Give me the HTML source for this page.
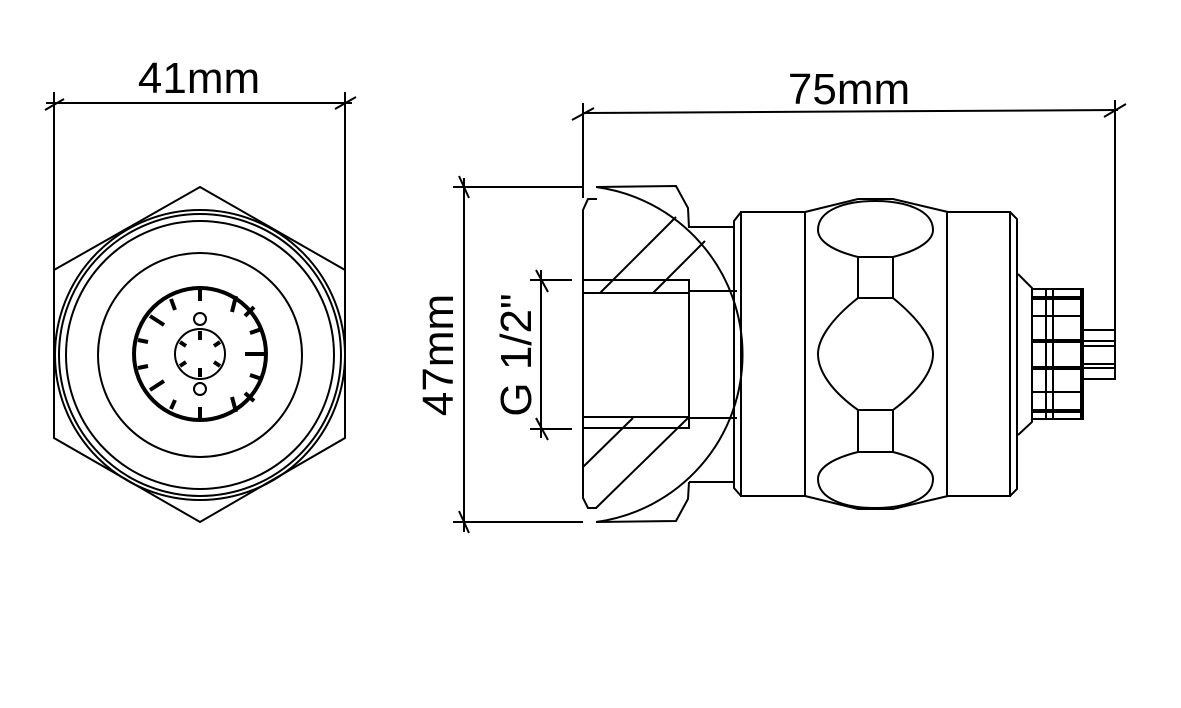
<!DOCTYPE html>
<html><head><meta charset="utf-8"><style>
html,body{margin:0;padding:0;background:#fff;}
svg{display:block}
text{font-family:"Liberation Sans",sans-serif;font-size:44px;fill:#000}
</style></head><body>
<svg width="1181" height="708" viewBox="0 0 1181 708" xmlns="http://www.w3.org/2000/svg">
<g fill="none" stroke="#000" stroke-width="2">
<line x1="54" y1="92" x2="54" y2="270"/>
<line x1="345" y1="92" x2="345" y2="270"/>
<line x1="46" y1="103" x2="352" y2="103"/>
<line x1="45" y1="110" x2="64" y2="99"/>
<line x1="335" y1="109" x2="356" y2="97"/>
<polygon points="200,187 345,270 345,438 200,522 54,438 54,270"/>
<circle cx="200" cy="355" r="145"/>
<circle cx="200" cy="355" r="141"/>
<circle cx="200" cy="355" r="134"/>
<circle cx="200" cy="355" r="102"/>
<circle cx="200" cy="354" r="66" stroke-width="4"/>
<circle cx="200" cy="354" r="25"/>
<circle cx="200" cy="319" r="6"/>
<circle cx="200" cy="389" r="6"/>
</g>
<g stroke="#000" stroke-width="4" fill="none">
<line x1="200" y1="290" x2="200" y2="301"/>
<line x1="200" y1="418" x2="200" y2="407"/>
<line x1="236" y1="296" x2="232" y2="312"/>
<line x1="254" y1="307" x2="245" y2="316"/>
<line x1="262" y1="329" x2="250" y2="333"/>
<line x1="264" y1="354" x2="245" y2="354"/>
<line x1="262" y1="379" x2="250" y2="375"/>
<line x1="254" y1="401" x2="245" y2="393"/>
<line x1="236" y1="412" x2="232" y2="397"/>
<line x1="171" y1="299" x2="175" y2="310"/>
<line x1="150" y1="316" x2="164" y2="325"/>
<line x1="138" y1="340" x2="148" y2="342"/>
<line x1="138" y1="368" x2="148" y2="366"/>
<line x1="150" y1="390" x2="164" y2="381"/>
<line x1="171" y1="409" x2="175" y2="400"/>
<line x1="200" y1="331" x2="200" y2="340"/>
<line x1="200" y1="368" x2="200" y2="377"/>
<line x1="180" y1="342" x2="186" y2="346"/>
<line x1="220" y1="342" x2="214" y2="346"/>
<line x1="180" y1="366" x2="186" y2="362"/>
<line x1="220" y1="366" x2="214" y2="362"/>
</g>
<g fill="none" stroke="#000" stroke-width="2">
<line x1="583" y1="103" x2="583" y2="198"/>
<line x1="1115" y1="100" x2="1115" y2="379"/>
<line x1="583" y1="113" x2="1118" y2="110"/>
<line x1="572" y1="120" x2="594" y2="108"/>
<line x1="1104" y1="117" x2="1126" y2="104"/>
<line x1="464" y1="178" x2="464" y2="532"/>
<line x1="453" y1="187" x2="583" y2="187"/>
<line x1="453" y1="522" x2="583" y2="522"/>
<line x1="459" y1="176" x2="469" y2="198"/>
<line x1="459" y1="511" x2="469" y2="533"/>
<line x1="541" y1="270" x2="541" y2="438"/>
<line x1="530" y1="280" x2="572" y2="280"/>
<line x1="530" y1="429" x2="572" y2="429"/>
<line x1="536" y1="270" x2="548" y2="292"/>
<line x1="536" y1="418" x2="548" y2="440"/>
<polyline points="597,199 588,199 583,210 583,498 588,508 597,508"/>
<path d="M596,187 L676,186 L688,208 L689,228"/>
<path d="M596,522 L676,521 L688,499 L689,482"/>
<path d="M596,187 A169,169 0 0 1 596,522"/>
<rect x="583" y="280" width="106" height="148"/>
<line x1="583" y1="293" x2="689" y2="293"/>
<line x1="583" y1="417" x2="689" y2="417"/>
<line x1="689" y1="291" x2="737" y2="291"/>
<line x1="689" y1="418" x2="737" y2="418"/>
<line x1="689" y1="227" x2="734" y2="227"/>
<line x1="689" y1="482" x2="734" y2="482"/>
<line x1="600" y1="293" x2="676" y2="217"/>
<line x1="653" y1="293" x2="705" y2="241"/>
<line x1="583" y1="467" x2="633" y2="418"/>
<line x1="596" y1="508" x2="688" y2="418"/>
<polyline points="741,212 734,221 734,488 741,496"/>
<rect x="741" y="212" width="64" height="284"/>
<polyline points="805,212 858,199 893,199 948,212"/>
<polyline points="805,496 858,509 893,509 948,496"/>
<path d="M858,257 C830,250 818,240 818,230 C818,210 845,201 875,201 C905,201 933,210 933,230 C933,240 920,250 893,257 Z"/>
<path d="M858,452 C830,459 818,469 818,479 C818,499 845,508 875,508 C905,508 933,499 933,479 C933,469 920,459 893,452 Z"/>
<path d="M858,298 C830,320 818,340 818,354 C818,370 830,390 858,410 L893,410 C920,390 933,370 933,354 C933,340 920,320 893,298 Z"/>
<rect x="858" y="257" width="35" height="41"/>
<rect x="858" y="410" width="35" height="42"/>
<rect x="947" y="212" width="63" height="284"/>
<polyline points="1010,212 1017,219 1017,489 1010,496"/>
<polyline points="1018,274 1032,288 1032,422 1018,435"/>
<rect x="1032" y="289" width="51" height="130"/>
<line x1="1046" y1="289" x2="1046" y2="419"/>
<line x1="1053" y1="289" x2="1053" y2="419"/>
<line x1="1032" y1="316" x2="1083" y2="316"/>
<line x1="1032" y1="392" x2="1083" y2="392"/>
<rect x="1083" y="330" width="32" height="49"/>
<line x1="1083" y1="341" x2="1115" y2="341"/>
<line x1="1083" y1="346" x2="1115" y2="346"/>
<line x1="1083" y1="364" x2="1115" y2="364"/>
<line x1="1083" y1="368" x2="1115" y2="368"/>
</g>
<g stroke="#000" stroke-width="4">
<line x1="1032" y1="298" x2="1083" y2="298"/>
<line x1="1032" y1="341" x2="1083" y2="341"/>
<line x1="1032" y1="368" x2="1083" y2="368"/>
<line x1="1032" y1="411" x2="1083" y2="411"/>
<line x1="1082" y1="289" x2="1082" y2="419"/>
</g>
<text x="199" y="93" text-anchor="middle">41mm</text>
<text x="849" y="104" text-anchor="middle">75mm</text>
<text transform="translate(453,355) rotate(-90)" text-anchor="middle">47mm</text>
<text transform="translate(531,355) rotate(-90)" text-anchor="middle">G 1/2"</text>
</svg>
</body></html>
